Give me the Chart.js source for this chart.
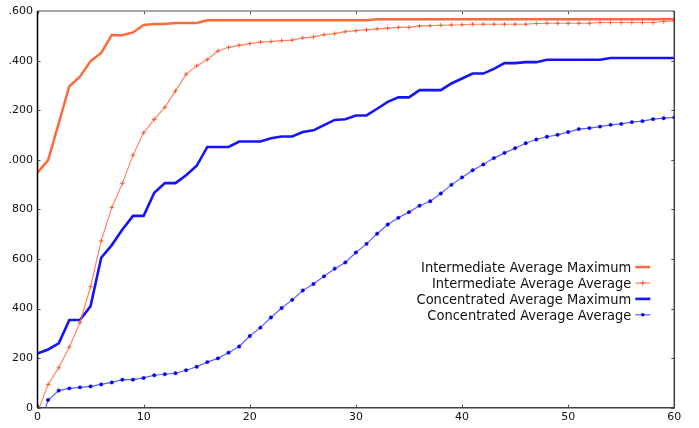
<!DOCTYPE html>
<html>
<head>
<meta charset="utf-8">
<script src="https://cdn.jsdelivr.net/npm/chart.js@4"></script>
<style>
  html, body { margin: 0; padding: 0; background: #fff; overflow: hidden; }
  #wrap { position: absolute; left: 8px; top: 0; width: 691px; height: 428px; overflow: hidden; }
</style>
</head>
<body>
<div id="wrap"><canvas id="chart" width="691" height="428"></canvas></div>
<script>
// ===== data =====
const steps = [0, 1, 2, 3, 4, 5, 6, 7, 8, 9, 10, 11, 12, 13, 14, 15, 16, 17, 18, 19, 20,
    21, 22, 23, 24, 25, 26, 27, 28, 29, 30, 31, 32, 33, 34, 35, 36, 37, 38, 39, 40,
    41, 42, 43, 44, 45, 46, 47, 48, 49, 50, 51, 52, 53, 54, 55, 56, 57, 58, 59, 60];

const intermediateMax = [948, 999, 1147, 1297, 1335, 1398, 1431, 1504, 1503, 1514,
    1544, 1548, 1548, 1552, 1552, 1552, 1563, 1563, 1563, 1563,
    1563, 1563, 1563, 1563, 1563, 1563, 1563, 1563, 1563, 1563,
    1563, 1563, 1567, 1567, 1567, 1567, 1567, 1567, 1567, 1567,
    1567, 1567, 1567, 1567, 1567, 1567, 1567, 1567, 1567, 1567,
    1567, 1567, 1567, 1567, 1567, 1567, 1567, 1567, 1567, 1567, 1567];

const intermediateAvg = [-19, 94, 161, 245, 344, 488, 673, 808, 905, 1019,
    1109, 1163, 1212, 1278, 1345, 1379, 1405, 1439, 1454, 1462,
    1469, 1475, 1477, 1481, 1483, 1492, 1496, 1505, 1509, 1517,
    1521, 1524, 1528, 1531, 1534, 1534, 1540, 1541, 1543, 1544,
    1545, 1547, 1547, 1547, 1547, 1547, 1547, 1550, 1551, 1551,
    1551, 1551, 1551, 1554, 1554, 1554, 1554, 1554, 1554, 1558, 1560];

const concentratedMax = [219, 235, 260, 354, 354, 410, 605, 656, 719, 774,
    774, 867, 906, 906, 938, 976, 1052, 1052, 1052, 1074,
    1074, 1074, 1087, 1094, 1094, 1112, 1119, 1140, 1161, 1164,
    1179, 1179, 1206, 1234, 1252, 1252, 1281, 1281, 1281, 1308,
    1328, 1348, 1348, 1367, 1390, 1390, 1394, 1394, 1404, 1404,
    1404, 1404, 1404, 1404, 1411, 1411, 1411, 1411, 1411, 1411, 1411];

const concentratedAvg = [-100, 31, 69, 78, 82, 86, 94, 102, 113, 113,
    120, 131, 135, 139, 151, 165, 184, 199, 222, 247,
    289, 323, 364, 402, 435, 473, 499, 530, 561, 586,
    626, 661, 702, 739, 766, 789, 815, 833, 864, 899,
    929, 958, 981, 1007, 1028, 1047, 1067, 1082, 1093, 1101,
    1112, 1124, 1128, 1134, 1141, 1145, 1152, 1156, 1164, 1168, 1171];

const seriesNames = ["Intermediate Average Maximum", "Intermediate Average Average",
    "Concentrated Average Maximum", "Concentrated Average Average"];

const yTicks = [0, 200, 400, 600, 800, 1000, 1200, 1400, 1600];
const xTicks = [0, 10, 20, 30, 40, 50, 60];

const tickFont = { family: "DejaVu Sans", size: 11 };
const legendFont = '14.5px "DejaVu Sans Condensed", "DejaVu Sans"';

// box with inward ticks on all four sides (gnuplot look)
const boxPlugin = {
    id: "box",
    afterDraw(chart) {
        const ctx = chart.ctx;
        const a = chart.chartArea;
        const xs = chart.scales.x, ys = chart.scales.y;
        const tl = 3;
        ctx.save();
        ctx.lineWidth = 1;
        ctx.strokeStyle = "#505050";
        ctx.beginPath();
        xTicks.forEach(v => {
            const px = Math.round(xs.getPixelForValue(v)) + 0.5;
            ctx.moveTo(px, a.bottom); ctx.lineTo(px, a.bottom - tl);
            ctx.moveTo(px, a.top); ctx.lineTo(px, a.top + tl);
        });
        yTicks.forEach(v => {
            const py = Math.round(ys.getPixelForValue(v)) + 0.5;
            ctx.moveTo(a.left, py); ctx.lineTo(a.left + tl, py);
            ctx.moveTo(a.right, py); ctx.lineTo(a.right - tl, py);
        });
        ctx.stroke();
        // top grey, right & bottom dark, left black
        ctx.lineWidth = 1.5;
        ctx.strokeStyle = "#8a8a8a";
        ctx.beginPath();
        ctx.moveTo(a.left, a.top); ctx.lineTo(a.right, a.top);
        ctx.stroke();
        ctx.strokeStyle = "#404040";
        ctx.beginPath();
        ctx.moveTo(a.right, a.top); ctx.lineTo(a.right, a.bottom); ctx.lineTo(a.left, a.bottom);
        ctx.stroke();
        ctx.strokeStyle = "#000";
        ctx.beginPath();
        ctx.moveTo(a.left, a.top); ctx.lineTo(a.left, a.bottom);
        ctx.stroke();
        ctx.restore();
    }
};

// legend inside the plot, text right aligned, sample on the right
const legendPlugin = {
    id: "boxLegend",
    afterDraw(chart) {
        const ctx = chart.ctx;
        const a = chart.chartArea;
        const sampleRight = a.right - 24;
        const sampleLeft = sampleRight - 15;
        let y = a.top + 256;
        ctx.save();
        ctx.font = legendFont;
        ctx.textAlign = "right";
        ctx.textBaseline = "middle";
        chart.data.datasets.forEach(ds => {
            ctx.fillStyle = "#111";
            ctx.fillText(ds.label, sampleLeft - 4, y + 1);
            ctx.strokeStyle = ds.borderColor;
            ctx.lineWidth = ds.borderWidth;
            ctx.beginPath();
            ctx.moveTo(sampleLeft, y);
            ctx.lineTo(sampleRight, y);
            ctx.stroke();
            if (ds.pointRadius > 0) {
                const cx = (sampleLeft + sampleRight) / 2;
                ctx.fillStyle = ds.pointBackgroundColor;
                ctx.strokeStyle = ds.pointBorderColor;
                ctx.lineWidth = 1;
                if (ds.pointStyle === "cross") {
                    ctx.beginPath();
                    ctx.moveTo(cx - 2.5, y); ctx.lineTo(cx + 2.5, y);
                    ctx.moveTo(cx, y - 2.5); ctx.lineTo(cx, y + 2.5);
                    ctx.stroke();
                } else {
                    ctx.beginPath();
                    ctx.arc(cx, y, ds.pointRadius, 0, Math.PI * 2);
                    ctx.fill();
                }
            }
            y += 15.9;
        });
        ctx.restore();
    }
};

const ctx = document.getElementById("chart").getContext("2d");
new Chart(ctx, {
    type: "line",
    data: {
        labels: steps,
        datasets: [{
            label: seriesNames[0],
            data: intermediateMax,
            borderColor: "#ff6a3d",
            borderWidth: 2.5,
            pointRadius: 0,
            tension: 0,
            clip: 0
        }, {
            label: seriesNames[1],
            data: intermediateAvg,
            borderColor: "rgba(255,110,70,0.85)",
            borderWidth: 1.2,
            pointStyle: "cross",
            pointRadius: 2.2,
            pointBorderWidth: 1,
            pointBorderColor: "#ff5a30",
            pointBackgroundColor: "#ff5a30",
            tension: 0,
            clip: 0
        }, {
            label: seriesNames[2],
            data: concentratedMax,
            borderColor: "#1414ff",
            borderWidth: 2.6,
            pointRadius: 0,
            tension: 0,
            clip: 0
        }, {
            label: seriesNames[3],
            data: concentratedAvg,
            borderColor: "rgba(40,40,255,0.75)",
            borderWidth: 1.2,
            pointStyle: "circle",
            pointRadius: 1.7,
            pointBorderWidth: 0.5,
            pointBorderColor: "#0000ee",
            pointBackgroundColor: "#0000ee",
            tension: 0,
            clip: 0
        }]
    },
    options: {
        responsive: false,
        animation: false,
        layout: { padding: { left: 0, right: 24.7, top: 11, bottom: 0 } },
        plugins: {
            legend: { display: false },
            tooltip: { enabled: false }
        },
        elements: { point: { hoverRadius: 0 } },
        scales: {
            x: {
                type: "linear",
                min: 0,
                max: 60,
                grid: { display: false, drawTicks: false },
                border: { display: false },
                afterFit: function (scale) { scale.height = 20.3; },
                ticks: {
                    stepSize: 10,
                    padding: 3,
                    color: "#111",
                    font: tickFont,
                    maxRotation: 0
                }
            },
            y: {
                min: 0,
                max: 1600,
                grid: { display: false, drawTicks: false },
                border: { display: false },
                afterFit: function (scale) { scale.width = 29.5; },
                ticks: {
                    stepSize: 200,
                    padding: 4.5,
                    color: "#111",
                    font: tickFont,
                    callback: function (value) {
                        return value.toLocaleString("de-DE");
                    }
                }
            }
        }
    },
    plugins: [boxPlugin, legendPlugin]
});
</script>
</body>
</html>
